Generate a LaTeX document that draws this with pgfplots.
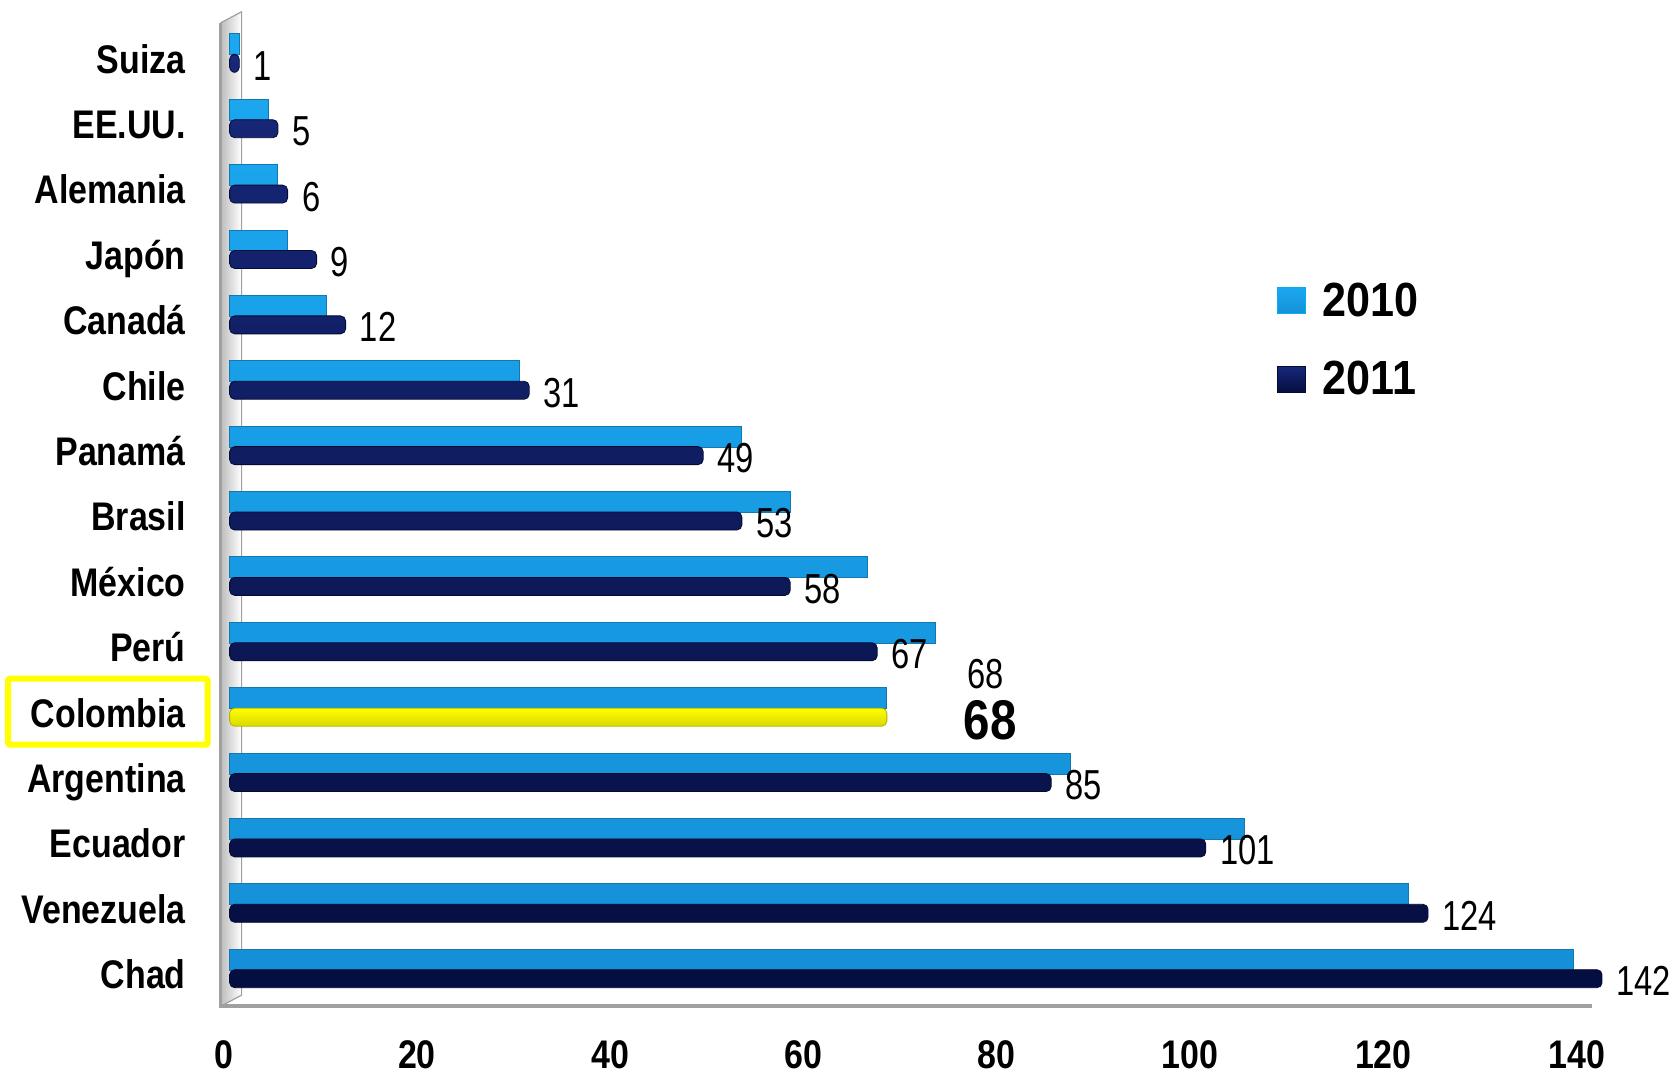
\documentclass[border=0pt]{standalone}
\usepackage{pgfplots}
\pgfplotsset{compat=1.18}
\usepackage{fontspec}
\setmainfont{Liberation Sans}[FakeStretch=0.85]
\newfontfamily\numfont{Liberation Sans}[FakeStretch=0.78]
\newfontfamily\legfont{Liberation Sans}[FakeStretch=0.9]
\definecolor{c2010}{HTML}{17A0E8}
\definecolor{c2010t}{HTML}{1BA8F0}
\definecolor{c2010b}{HTML}{1590D8}
\definecolor{c2010d}{HTML}{1478B0}
\definecolor{c2011t}{HTML}{18287A}
\definecolor{c2011b}{HTML}{050E40}
\definecolor{c2011d}{HTML}{040B30}
\definecolor{leg2010}{HTML}{00B0F0}
\definecolor{wallgray}{HTML}{A0A0A0}
\definecolor{ylw}{HTML}{FFFF00}
\begin{document}
\begin{tikzpicture}
\begin{axis}[
  scale only axis, width=692.1pt, height=498pt,
  xmin=0, xmax=143, ymin=-0.49, ymax=14.72,
  axis line style={draw=none}, clip=false, set layers,
  ytick={0,...,14},
  yticklabels={Chad,Venezuela,Ecuador,Argentina,Colombia,Perú,México,Brasil,Panamá,Chile,Canadá,Japón,Alemania,EE.UU.,Suiza},
  xtick={0,20,...,140},
  major tick length=0pt,
  /pgf/number format/assume math mode=true,
  yticklabel style={font=\bfseries\fontsize{20}{24}\selectfont, text height=14.4pt, text depth=0pt, xshift=-18.5pt},
  xticklabel style={font=\bfseries\fontsize{20}{24}\selectfont, yshift=-13.8pt, xshift=-3pt},
  legend style={at={(axis cs:108.3,9.70)}, anchor=west, draw=none, fill=none,
    font=\legfont\bfseries\fontsize{24}{27}\selectfont, row sep=17pt, inner sep=0pt,
    /tikz/every odd column/.append style={column sep=6.5pt}},
  legend cell align=left,
]
\begin{pgfonlayer}{axis background}
  \fill[left color=wallgray!70, right color=white] (axis cs:-0.93,-0.49) -- (axis cs:-0.93,14.55) -- (axis cs:1.24,14.72) -- (axis cs:1.24,-0.32) -- cycle;
  \draw[wallgray, line width=0.6pt] (axis cs:-0.93,14.55) -- (axis cs:1.24,14.72) -- (axis cs:1.24,-0.32) -- (axis cs:-0.93,-0.49);
  \draw[wallgray, line width=1.8pt] (axis cs:-0.93,14.55) -- (axis cs:-0.93,-0.49) -- (axis cs:141,-0.49);
\end{pgfonlayer}

% 2010
\addplot[xbar, bar width=10.5pt, bar shift=7.25pt, top color=c2010t, bottom color=c2010b, draw=c2010d, line width=0.5pt,
  legend image code/.code={\fill[leg2010, sharp corners] (0pt,-6.5pt) rectangle (14pt,6.5pt);}]
  coordinates {(139,0) (122,1) (105,2) (87,3) (68,4) (73,5) (66,6) (58,7) (53,8) (30,9) (10,10) (6,11) (5,12) (4,13) (1,14)};
\addlegendentry{2010}

% 2011
\addplot[xbar, bar width=9pt, bar shift=-2.25pt, top color=c2011t, bottom color=c2011b, draw=c2011d, line width=0.4pt, rounded corners=2.5pt,
  point meta=x, nodes near coords,
  every node near coord/.append style={font=\numfont\fontsize{21}{24}\selectfont, anchor=west, inner sep=0pt, xshift=7pt, yshift=-3pt, text height=15.5pt, text depth=0pt, black},
  legend image code/.code={\fill[sharp corners, top color=c2011t, bottom color=c2011b, draw=c2011d] (0pt,-6.5pt) rectangle (14pt,6.5pt);}]
  coordinates {(142,0) (124,1) (101,2) (85,3) (67,5) (58,6) (53,7) (49,8) (31,9) (12,10) (9,11) (6,12) (5,13) (1,14)};
\addlegendentry{2011}

% Colombia 2011
\addplot[xbar, bar width=9pt, bar shift=-2.25pt, top color=ylw, bottom color=ylw!85!black, draw=ylw!70!black, line width=0.4pt, rounded corners=2.5pt, forget plot]
  coordinates {(68,4)};

\node[font=\numfont\fontsize{21}{24}\selectfont, text height=15.5pt, text depth=0pt, inner sep=0pt] at (axis cs:78.2,4.6) {68};
\node[font=\bfseries\fontsize{28}{32}\selectfont, text height=20pt, text depth=0pt, inner sep=0pt] at (axis cs:78.7,3.89) {68};

\draw[ylw, line width=3pt, rounded corners=1pt] (axis cs:-22.93,3.511) rectangle (axis cs:-2.27,4.519);

\path (axis cs:-23.76,14.90) rectangle (axis cs:148.86,-1.496);
\end{axis}
\end{tikzpicture}
\end{document}
